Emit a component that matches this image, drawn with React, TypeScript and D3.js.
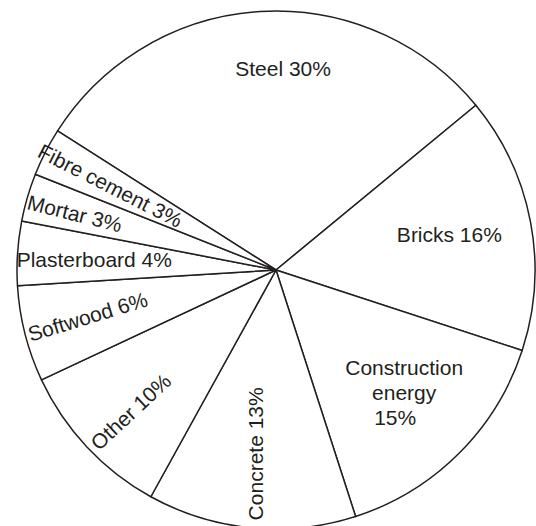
import React from "react";
import * as d3 from "d3";

const categories = [
  "Steel",
  "Bricks",
  "Construction energy",
  "Concrete",
  "Other",
  "Softwood",
  "Plasterboard",
  "Mortar",
  "Fibre cement",
];
const shares = [30, 16, 15, 13, 10, 6, 4, 3, 3];

// label lines per slice (text only)
const labelLines = [
  ["Steel 30%"],
  ["Bricks 16%"],
  ["Construction", "energy", "15%"],
  ["Concrete 13%"],
  ["Other 10%"],
  ["Softwood 6%"],
  ["Plasterboard 4%"],
  ["Mortar 3%"],
  ["Fibre cement 3%"],
];

// layout (not data): label radius, angle nudge (deg), rotation (deg), per-line x nudges
const labelLayout = [
  { r: 202, dA: 5.5, rot: 0, dx: [0] },
  { r: 177, dA: -0.9, rot: 0, dx: [0] },
  { r: 177, dA: -1.5, rot: 0, dx: [0, 0, -9] },
  { r: 185, dA: 0.9, rot: -90, dx: [0] },
  { r: 203, dA: -1.2, rot: -43, dx: [0] },
  { r: 194, dA: 0.4, rot: -17, dx: [0] },
  { r: 182, dA: -0.5, rot: 0, dx: [0] },
  { r: 209, dA: -0.6, rot: 14, dx: [0] },
  { r: 186, dA: -0.1, rot: 27, dx: [0] },
];

const W = 536;
const H = 526;
const CX = 276;
const CY = 270;
const R = 259;
const START = (-57.5 * Math.PI) / 180;
const INK = "#231f20";
const FONT = "'Liberation Sans', Arial, Helvetica, sans-serif";
const LINE_H = 25;

export default function App() {
  const pie = d3
    .pie<number>()
    .sort(null)
    .value((d) => d)
    .startAngle(START)
    .endAngle(START + 2 * Math.PI);
  const arcs = pie(shares);
  const arc = d3.arc<d3.PieArcDatum<number>>().innerRadius(0).outerRadius(R);

  return (
    <svg
      width={W}
      height={H}
      style={{ position: "absolute", left: 0, top: 0, background: "#fff" }}
    >
      <g transform={`translate(${CX},${CY})`}>
        {arcs.map((a, i) => (
          <path
            key={categories[i]}
            d={arc(a) || ""}
            fill="#fff"
            stroke={INK}
            strokeWidth={1.5}
            strokeLinejoin="round"
          />
        ))}
        {arcs.map((a, i) => {
          const L = labelLayout[i];
          const mid = (a.startAngle + a.endAngle) / 2 + (L.dA * Math.PI) / 180;
          const x = Math.sin(mid) * L.r;
          const y = -Math.cos(mid) * L.r;
          const lines = labelLines[i];
          const n = lines.length;
          return (
            <g key={"l" + i} transform={`translate(${x},${y}) rotate(${L.rot})`}>
              <text
                fontFamily={FONT}
                fontSize={21}
                fill={INK}
                textAnchor="middle"
              >
                {lines.map((t, j) => (
                  <tspan
                    key={j}
                    x={L.dx[j] || 0}
                    y={(j - (n - 1) / 2) * LINE_H + 7.5}
                  >
                    {t}
                  </tspan>
                ))}
              </text>
            </g>
          );
        })}
      </g>
    </svg>
  );
}
